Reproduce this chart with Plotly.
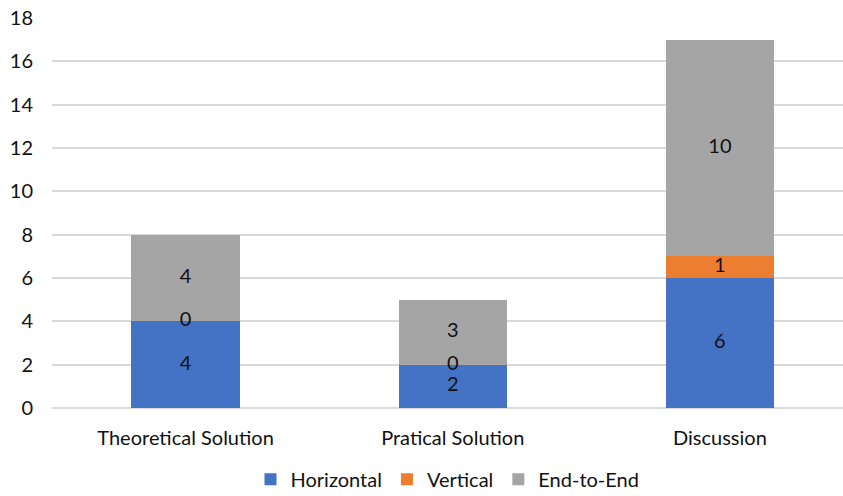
import plotly.graph_objects as go

categories = ["Theoretical Solution", "Pratical Solution", "Discussion"]
horizontal = [4, 2, 6]
vertical = [0, 0, 1]
end_to_end = [4, 3, 10]

series = [
    ("Horizontal", horizontal, "#4472C4"),
    ("Vertical", vertical, "#ED7D31"),
    ("End-to-End", end_to_end, "#A5A5A5"),
]

FONT = "Lato"
TEXT = "#111111"
SIZE = 20

fig = go.Figure()
xs = list(range(len(categories)))

# stacked bars
for name, vals, color in series:
    fig.add_trace(go.Bar(
        x=xs, y=vals, name=name, marker=dict(color=color, line=dict(width=0)),
        width=0.405,
    ))

# value labels centred in each segment (zero segments labelled too)
base = [0] * len(categories)
lx, ly, lt = [], [], []
for name, vals, color in series:
    for i, v in enumerate(vals):
        lx.append(xs[i])
        ly.append(base[i] + v / 2)
        lt.append(str(v))
        base[i] += v
fig.add_trace(go.Scatter(
    x=lx, y=ly, text=lt, mode="text", showlegend=False, hoverinfo="skip",
    textfont=dict(family=FONT, size=SIZE, color=TEXT), cliponaxis=False,
))

fig.update_layout(
    barmode="stack",
    width=843, height=496,
    margin=dict(l=52, r=0, t=18, b=88, autoexpand=False),
    paper_bgcolor="white", plot_bgcolor="white",
    font=dict(family=FONT, size=SIZE, color=TEXT),
    showlegend=True,
    legend=dict(orientation="h", x=0.5, xanchor="center", y=-0.183, yanchor="middle",
                font=dict(family=FONT, size=SIZE, color=TEXT),
                itemwidth=30, traceorder="normal", tracegroupgap=0),
    xaxis=dict(
        tickmode="array", tickvals=xs, ticktext=categories,
        range=[-0.5, 2.4607], showgrid=False, zeroline=False,
        showline=False, ticks="", ticklabelstandoff=16,
        tickfont=dict(family=FONT, size=SIZE, color=TEXT),
    ),
    yaxis=dict(
        range=[0, 18], dtick=2, tick0=0, showgrid=True, gridcolor="#D9D9D9",
        gridwidth=1.5, zeroline=True, zerolinecolor="#D9D9D9", zerolinewidth=1.5,
        showline=False, ticks="", ticklabelstandoff=18,
        tickfont=dict(family=FONT, size=SIZE, color=TEXT),
    ),
)

fig.write_html("out.html")
